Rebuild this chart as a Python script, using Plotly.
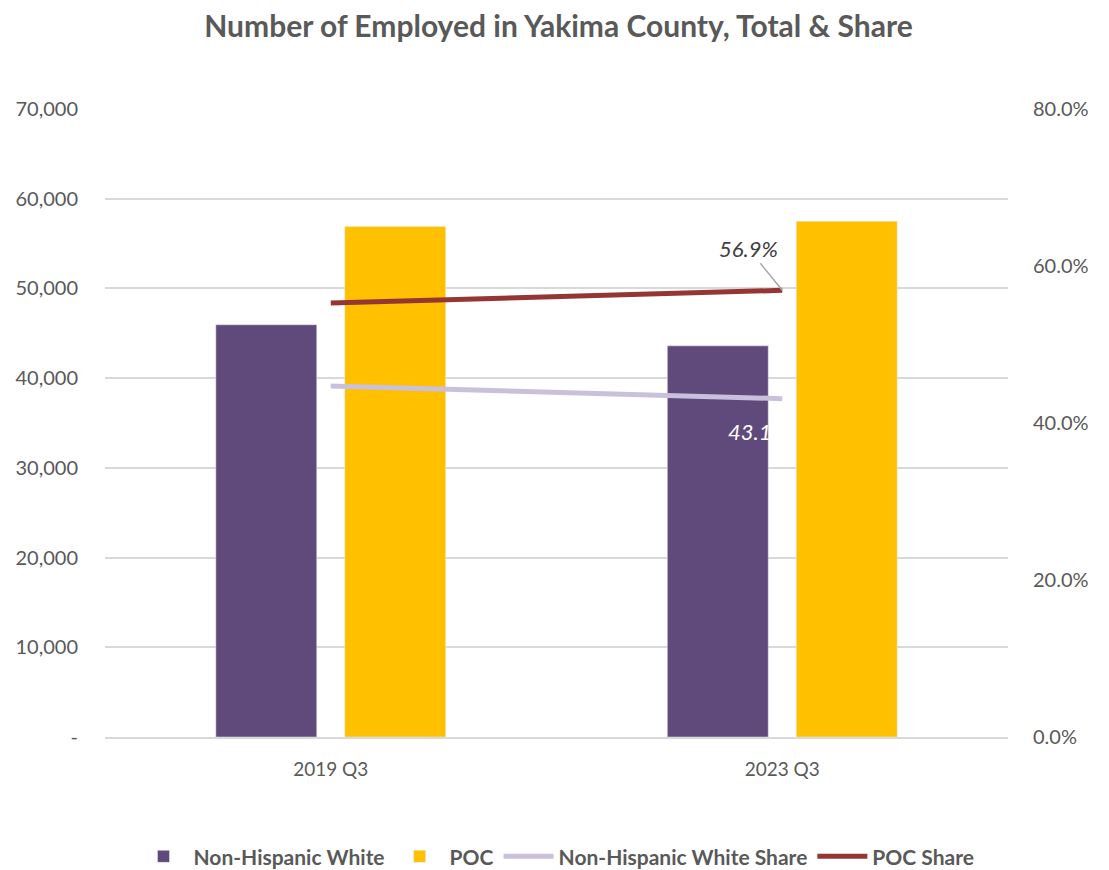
import plotly.graph_objs as go

# Datos
trimestres = ["2019 Q3", "2023 Q3"]
blancos = [45950, 43600]
poc = [56900, 57500]
blancos_share = [44.7, 43.1]
poc_share = [55.3, 56.9]

gris = "#595959"
fuente = "Lato"

trace1 = go.Bar(x=trimestres, y=blancos, name="Non-Hispanic White", marker_color="#604A7B")
trace2 = go.Bar(x=trimestres, y=poc, name="POC", marker_color="#FFC000")
trace3 = go.Scatter(x=trimestres, y=blancos_share, name="Non-Hispanic White Share", yaxis="y2",
                    mode="lines", line=dict(color="#C9C0DC", width=5))
trace4 = go.Scatter(x=trimestres, y=poc_share, name="POC Share", yaxis="y2",
                    mode="lines", line=dict(color="#963634", width=5))

# El body de la página tiene 8px de margen: la figura se reduce en 8px
layout = go.Layout(
    title=dict(text="<b>Number of Employed in Yakima County, Total &amp; Share</b>",
               x=0.5, xanchor="center", y=0.979, yanchor="middle",
               font=dict(family=fuente, size=30, color=gris)),
    font=dict(family=fuente, size=19, color=gris),
    width=1101, height=862,
    margin=dict(l=97, r=101, t=101, b=133, autoexpand=False),
    plot_bgcolor="white", paper_bgcolor="white",
    barmode="group", bargap=0.429, bargroupgap=0.217,
    xaxis=dict(showline=True, linecolor="#D9D9D9", linewidth=1.5, ticks="",
               tickfont=dict(size=19), ticklabelstandoff=14, automargin=False),
    yaxis=dict(range=[0, 70000], tickvals=[0, 10000, 20000, 30000, 40000, 50000, 60000, 70000],
               ticktext=["-", "10,000", "20,000", "30,000", "40,000", "50,000", "60,000", "70,000"],
               showgrid=True, gridcolor="#D9D9D9", gridwidth=1.5, zeroline=False,
               tickfont=dict(size=20), ticklabelstandoff=26, automargin=False),
    yaxis2=dict(range=[0, 80], overlaying="y", side="right", tickvals=[0, 20, 40, 60, 80],
                ticktext=["0.0%", "20.0%", "40.0%", "60.0%", "80.0%"], showgrid=False,
                zeroline=False, tickfont=dict(size=20), ticklabelstandoff=24, automargin=False),
    legend=dict(orientation="h", x=0.5, xanchor="center", y=-0.158, yanchor="top",
                font=dict(size=21, weight="bold"), itemwidth=50, traceorder="normal"),
    annotations=[
        dict(x="2023 Q3", y=56.9, xref="x", yref="y2", text="<i>56.9%</i>", showarrow=True,
             arrowhead=0, arrowwidth=1.5, arrowcolor="#A6A6A6", ax=-34, ay=-42,
             font=dict(size=22, color="#404040")),
        dict(x="2023 Q3", y=43.1, xref="x", yref="y2", text="<i>43.1%</i>", showarrow=False,
             xshift=-24, yshift=-33, font=dict(size=22, color="white")),
    ],
)

fig = go.Figure(data=[trace1, trace2, trace3, trace4], layout=layout)
fig.write_html("out.html")
